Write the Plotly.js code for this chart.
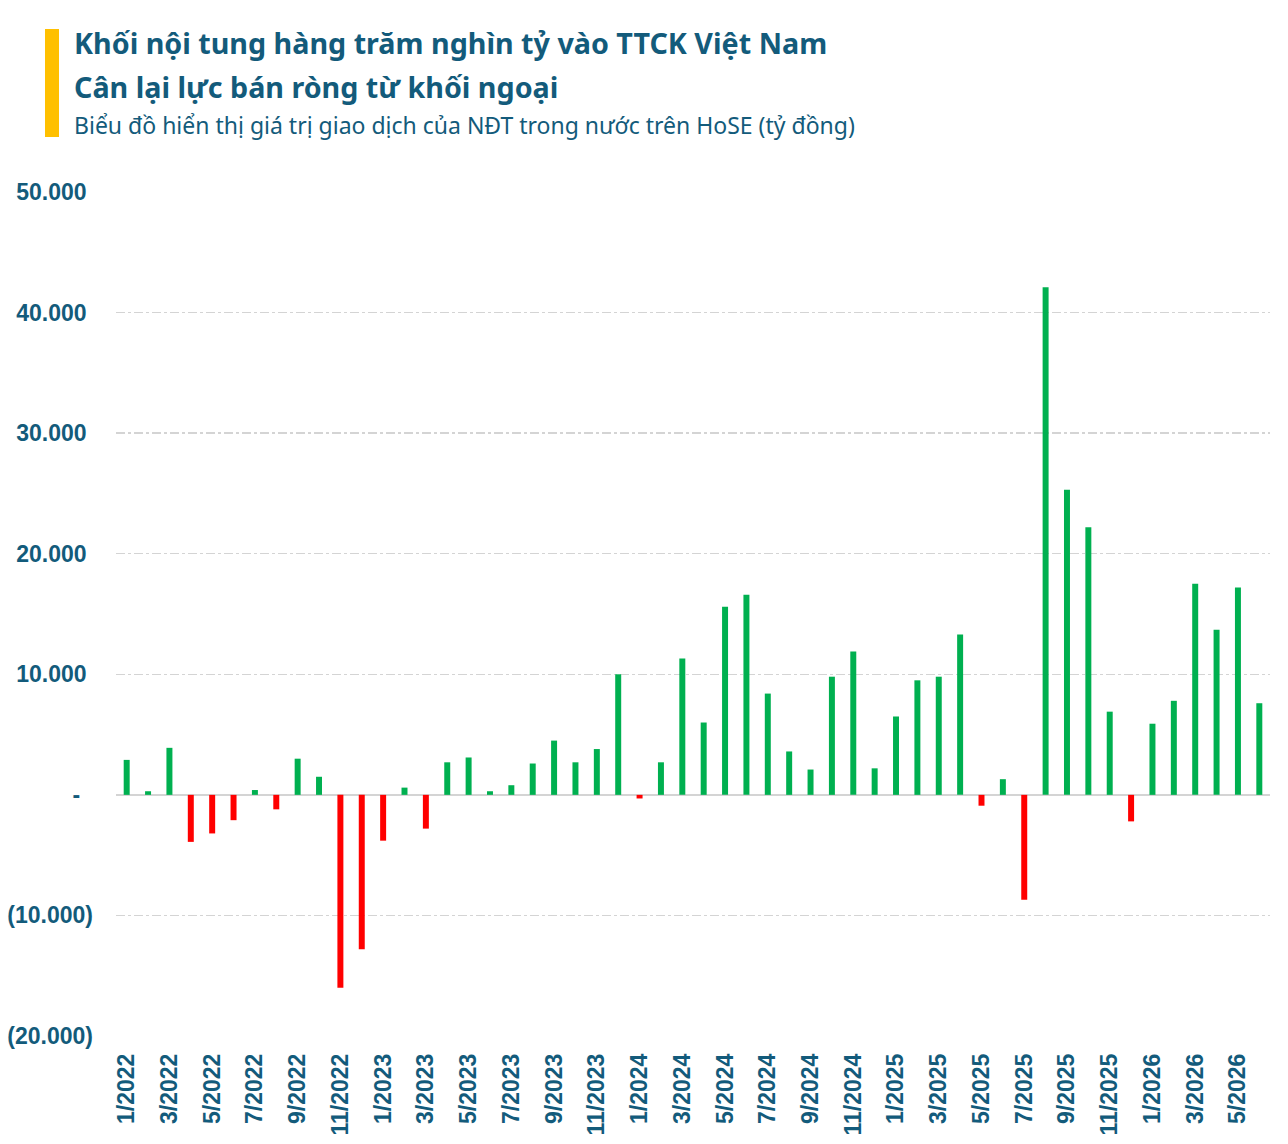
<!DOCTYPE html>
<html>
<head>
<meta charset="utf-8">
<script src="https://cdn.plot.ly/plotly-3.0.1.min.js"></script>
<style>html,body{margin:0;padding:0;background:#fff;}#chart{width:1288px;height:1144px;}</style>
</head>
<body>
<div id="chart"></div>
<script>
// Months 1/2022 .. 6/2026
const months = [
  "1/2022","2/2022","3/2022","4/2022","5/2022","6/2022","7/2022","8/2022","9/2022","10/2022","11/2022","12/2022",
  "1/2023","2/2023","3/2023","4/2023","5/2023","6/2023","7/2023","8/2023","9/2023","10/2023","11/2023","12/2023",
  "1/2024","2/2024","3/2024","4/2024","5/2024","6/2024","7/2024","8/2024","9/2024","10/2024","11/2024","12/2024",
  "1/2025","2/2025","3/2025","4/2025","5/2025","6/2025","7/2025","8/2025","9/2025","10/2025","11/2025","12/2025",
  "1/2026","2/2026","3/2026","4/2026","5/2026","6/2026"
];
// Net value of domestic investors on HoSE (billion VND)
const netValue = [
  2900, 300, 3900, -3900, -3200, -2100, 400, -1200, 3000, 1500, -16000, -12800,
  -3800, 600, -2800, 2700, 3100, 300, 800, 2600, 4500, 2700, 3800, 10000,
  -300, 2700, 11300, 6000, 15600, 16600, 8400, 3600, 2100, 9800, 11900, 2200,
  6500, 9500, 9800, 13300, -900, 1300, -8700, 42100, 25300, 22200, 6900, -2200,
  5900, 7800, 17500, 13700, 17200, 7600
];
const yTickVals = [-20000, -10000, 0, 10000, 20000, 30000, 40000, 50000];
const yTickText = ["(20.000)", "(10.000)", "-\u00a0\u00a0", "10.000\u00a0", "20.000\u00a0", "30.000\u00a0", "40.000\u00a0", "50.000\u00a0"];
const xTickVals = months.filter((m, i) => i % 2 === 0);

const titleLine1 = "Khối nội tung hàng trăm nghìn tỷ vào TTCK Việt Nam";
const titleLine2 = "Cân lại lực bán ròng từ khối ngoại";
const subtitle = "Biểu đồ hiển thị giá trị giao dịch của NĐT trong nước trên HoSE (tỷ đồng)";

const GREEN = "#00B050", RED = "#FF0000", TEAL = "#135B7B";

const trace = {
  type: "bar",
  x: months,
  y: netValue,
  marker: { color: netValue.map(v => v < 0 ? RED : GREEN) },
  hoverinfo: "x+y"
};

// plot area: left 116, right 1270, top 192, bottom 1036
const L = 116, R = 18, T = 192, B = 108;
const W = 1288 - L - R, H = 1144 - T - B;
const px = x => (x - L) / W;
const py = y => (1144 - B - y) / H;

const layout = {
  width: 1288, height: 1144,
  margin: { l: L, r: R, t: T, b: B, pad: 0 },
  paper_bgcolor: "#fff", plot_bgcolor: "#fff",
  showlegend: false,
  bargap: 0.72,
  font: { family: "Liberation Sans, Arial, sans-serif", color: TEAL },
  xaxis: {
    type: "category",
    tickvals: xTickVals,
    tickangle: -90,
    tickfont: { size: 23, family: "Liberation Sans, Arial, sans-serif", weight: "bold", color: TEAL },
    showgrid: false, showline: false, zeroline: false, ticks: "",
    ticklabelstandoff: 12,
    range: [-0.5, months.length - 0.5]
  },
  yaxis: {
    range: [-20000, 50000],
    tickvals: yTickVals, ticktext: yTickText,
    tickfont: { size: 23, family: "Liberation Sans, Arial, sans-serif", weight: "bold", color: TEAL },
    showgrid: true, gridcolor: "#D4D4D4", gridwidth: 1.3, griddash: "dashdot",
    zeroline: true, zerolinecolor: "#D4D4D4", zerolinewidth: 2,
    showline: false, ticks: "",
    ticklabelstandoff: 22
  },
  shapes: [
    { type: "rect", xref: "paper", yref: "paper", x0: px(45), x1: px(59), y0: py(137), y1: py(29),
      fillcolor: "#FFC000", line: { width: 0 } }
  ],
  annotations: [
    { xref: "paper", yref: "paper", x: px(72), y: py(21), xanchor: "left", yanchor: "top", showarrow: false,
      text: "<b>" + titleLine1 + "</b>", font: { size: 28.7, family: "Noto Sans, sans-serif", color: TEAL } },
    { xref: "paper", yref: "paper", x: px(72), y: py(65), xanchor: "left", yanchor: "top", showarrow: false,
      text: "<b>" + titleLine2 + "</b>", font: { size: 28.7, family: "Noto Sans, sans-serif", color: TEAL } },
    { xref: "paper", yref: "paper", x: px(72), y: py(107), xanchor: "left", yanchor: "top", showarrow: false,
      text: subtitle, font: { size: 23, family: "Noto Sans, sans-serif", color: TEAL } }
  ]
};

Plotly.newPlot("chart", [trace], layout, { displayModeBar: false, staticPlot: true });
</script>
</body>
</html>
